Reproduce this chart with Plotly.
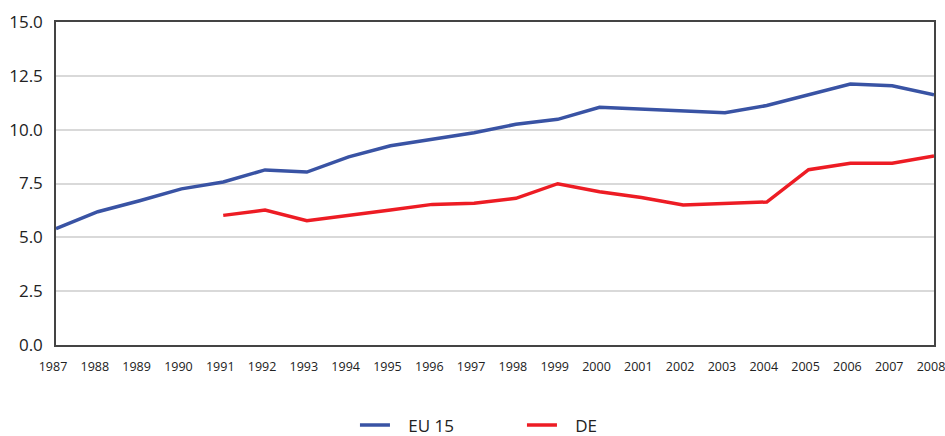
import plotly.graph_objects as go

years = list(range(1987, 2009))
eu15 = [5.40, 6.19, 6.70, 7.25, 7.57, 8.13, 8.03, 8.74, 9.25, 9.55, 9.86, 10.25,
        10.48, 11.04, 10.96, 10.88, 10.79, 11.12, 11.63, 12.12, 12.04, 11.62]
de_years = list(range(1991, 2009))
de = [6.02, 6.27, 5.77, 6.04, 6.27, 6.53, 6.58, 6.81, 7.49, 7.12, 6.85, 6.50,
      6.57, 6.64, 8.14, 8.44, 8.44, 8.78]
y_ticks = [0, 2.5, 5, 7.5, 10, 12.5, 15]
y_labels = ["0.0", "2.5", "5.0", "7.5", "10.0", "12.5", "15.0"]
series_names = ["EU 15", "DE"]

pad = "\u00a0\u00a0\u00a0"
fig = go.Figure()
fig.add_trace(go.Scatter(x=years, y=eu15, mode="lines", name=pad + series_names[0],
                         line=dict(color="#3953A4", width=3.5)))
fig.add_trace(go.Scatter(x=de_years, y=de, mode="lines", name=pad + series_names[1],
                         line=dict(color="#ED1C24", width=3.5)))

fig.update_layout(
    width=945, height=436,
    margin=dict(l=56, r=11, t=22, b=91),
    paper_bgcolor="white", plot_bgcolor="white",
    font=dict(family="Open Sans", color="#222222"),
    showlegend=True,
    legend=dict(orientation="h", x=0.3405, xanchor="left", xref="paper",
                y=0.024, yanchor="middle", yref="container",
                font=dict(size=17, color="#222222"), entrywidth=122, entrywidthmode="pixels",
                itemwidth=30),
)
fig.update_xaxes(range=[1987, 2008], tickmode="array", tickvals=years,
                 ticktext=[str(y) for y in years],
                 tickfont=dict(size=12.5, family="Open Sans"),
                 showgrid=False, showline=True, linecolor="#444444", linewidth=1.5,
                 mirror=True, ticks="", ticklabelstandoff=9, ticklabelshift=-3,
                 zeroline=False, automargin=False, ticklabeloverflow="allow")
fig.update_yaxes(range=[0, 15], tickmode="array", tickvals=y_ticks, ticktext=y_labels,
                 tickfont=dict(size=17), showgrid=True, gridcolor="#d9d9d9", gridwidth=1.5,
                 showline=True, linecolor="#444444", linewidth=1.5, mirror=True,
                 ticks="", ticklabelstandoff=8, zeroline=False,
                 automargin=False, ticklabeloverflow="allow")

fig.write_html("out.html",
               config={"displayModeBar": False},
               post_script="document.body.style.margin='0';document.body.style.overflow='hidden';")
